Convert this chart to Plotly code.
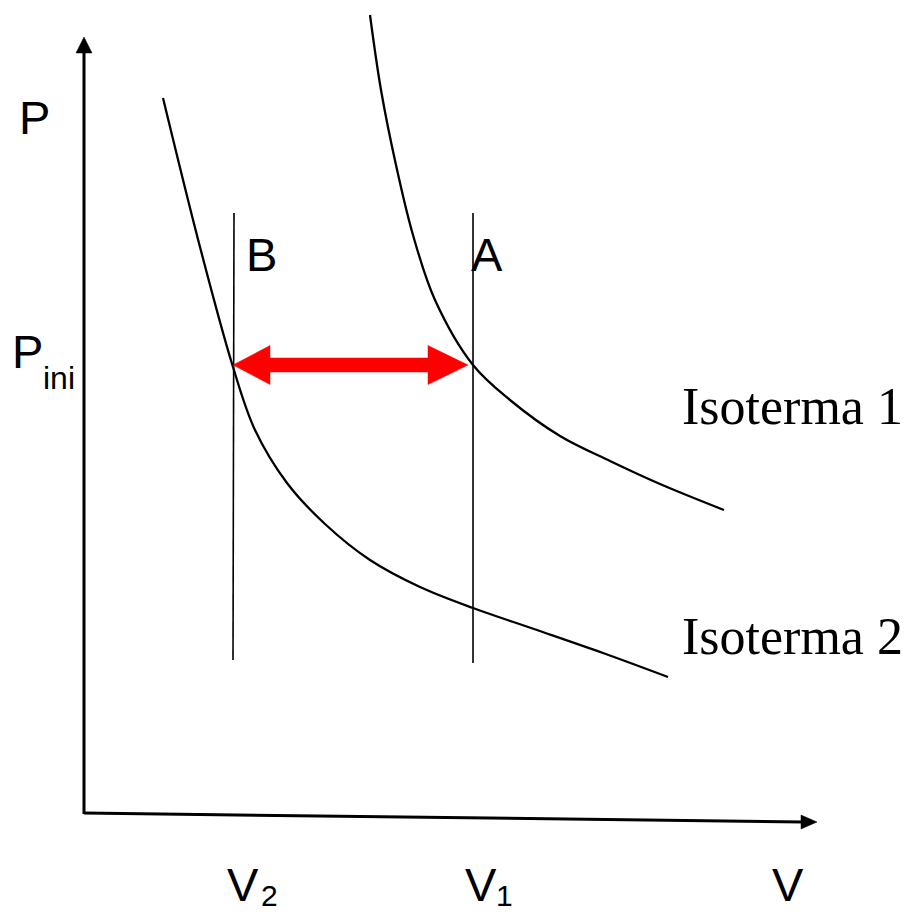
import plotly.graph_objects as go

# --- diagram data (pixel-space coordinates) ---
iso1_x = [370, 381, 396, 413, 435, 473, 510, 560, 610, 660, 724]
iso1_y = [15, 90, 165, 235, 300, 365, 400, 436, 461, 484, 510]

iso2_x = [163, 200, 233, 255, 287, 325, 370, 420, 473, 537, 603, 668]
iso2_y = [98, 247, 367, 430, 483, 524, 560, 587, 608, 630, 653, 677]

vline_B_x = [234, 233]
vline_B_y = [213, 660]
vline_A_x = [473, 473]
vline_A_y = [213, 663]

yaxis_x = [84, 84]
yaxis_y = [814, 50]
yhead_x = [84, 76, 92, 84]
yhead_y = [37, 53, 53, 37]

xaxis_x = [84, 803]
xaxis_y = [813, 822]
xhead_x = [817, 801, 801, 817]
xhead_y = [822, 815, 829, 822]

red_x = [233, 270, 270, 428, 428, 468, 428, 428, 270, 270, 233]
red_y = [365, 345.5, 358, 358, 345.5, 365, 384.5, 372, 372, 384.5, 365]

labels_sans = ["P", "P", "ini", "B", "A", "V", "2", "V", "1", "V"]
labels_sans_x = [17, 10, 41, 244, 469, 225, 259, 463, 494, 770]
labels_sans_y = [117, 351, 378, 254, 254, 884, 895, 884, 895, 884]
labels_sans_size = [47, 47, 32, 47, 47, 47, 30, 47, 30, 47]

labels_serif = ["Isoterma 1", "Isoterma 2"]
labels_serif_x = [680, 680]
labels_serif_y = [406, 636]

fig = go.Figure()

def line(x, y, w, color="black"):
    fig.add_trace(go.Scatter(x=x, y=y, mode="lines", line=dict(color=color, width=w),
                             hoverinfo="skip", showlegend=False))

def poly(x, y, color):
    fig.add_trace(go.Scatter(x=x, y=y, mode="lines", fill="toself", fillcolor=color,
                             line=dict(color=color, width=0.5), hoverinfo="skip", showlegend=False))

line(yaxis_x, yaxis_y, 3)
line(xaxis_x, xaxis_y, 3)
poly(yhead_x, yhead_y, "black")
poly(xhead_x, xhead_y, "black")
line(vline_B_x, vline_B_y, 1.6)
line(vline_A_x, vline_A_y, 1.6)

fig.add_trace(go.Scatter(x=iso1_x, y=iso1_y, mode="lines",
                         line=dict(color="black", width=2.3, shape="spline", smoothing=1.0),
                         hoverinfo="skip", showlegend=False))
fig.add_trace(go.Scatter(x=iso2_x, y=iso2_y, mode="lines",
                         line=dict(color="black", width=2.3, shape="spline", smoothing=1.0),
                         hoverinfo="skip", showlegend=False))

poly(red_x, red_y, "#ff0000")

for t, x, y, s in zip(labels_sans, labels_sans_x, labels_sans_y, labels_sans_size):
    fig.add_annotation(x=x, y=y, text=t, showarrow=False, xanchor="left", yanchor="middle",
                       font=dict(family="Liberation Sans, Arial", size=s, color="black"))
for t, x, y in zip(labels_serif, labels_serif_x, labels_serif_y):
    fig.add_annotation(x=x, y=y, text=t, showarrow=False, xanchor="left", yanchor="middle",
                       font=dict(family="Liberation Serif, Times New Roman", size=52, color="black"))

fig.update_layout(
    width=909, height=914,
    margin=dict(l=0, r=0, t=0, b=0),
    paper_bgcolor="white", plot_bgcolor="white",
    xaxis=dict(range=[0, 909], visible=False, fixedrange=True),
    yaxis=dict(range=[914, 0], visible=False, fixedrange=True),
)

fig.write_html("out.html", config={"displayModeBar": False},
               post_script="document.body.style.margin='0';document.body.style.padding='0';document.body.style.overflow='hidden';")
